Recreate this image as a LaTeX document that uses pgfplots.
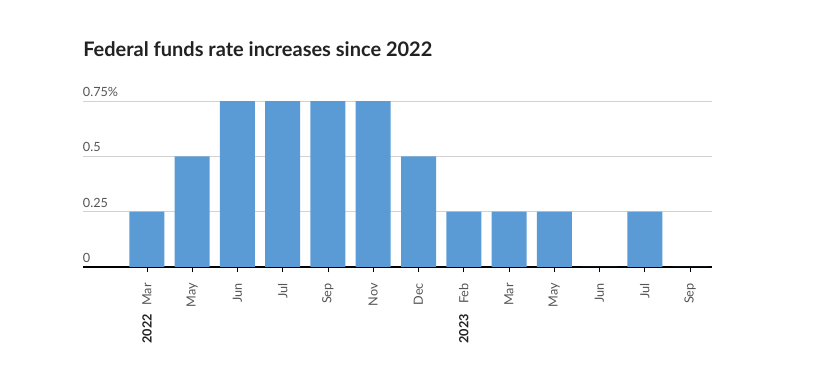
\documentclass[border=0pt]{standalone}
\usepackage{pgfplots}
\pgfplotsset{compat=1.18}
\usepackage{fontspec}
\setmainfont{Lato}
\definecolor{barblue}{RGB}{91,155,213}
\definecolor{gridgray}{RGB}{210,210,210}
\definecolor{labgray}{RGB}{85,85,85}
\definecolor{titlegray}{RGB}{34,34,34}
\begin{document}
\begin{tikzpicture}
\begin{axis}[
  at={(0,0)}, anchor=south west,
  scale only axis,
  width=471.75pt, height=124.5pt,
  xmin=-1.414, xmax=12.486,
  ymin=0, ymax=0.75,
  axis x line*=bottom, axis y line*=left,
  y axis line style={draw=none},
  x axis line style={black, line width=0.9pt},
  ytick={0,0.25,0.5,0.75},
  yticklabels={0,0.25,0.5,0.75\%},
  ytick style={draw=none},
  ymajorgrids, grid style={gridgray, line width=0.6pt},
  yticklabel style={anchor=south west, inner sep=0pt, xshift=3.75pt, yshift=3pt, font=\fontsize{9.5pt}{11pt}\selectfont, text=labgray},
  xtick={0,...,12},
  xticklabels={Mar,May,Jun,Jul,Sep,Nov,Dec,Feb,Mar,May,Jun,Jul,Sep},
  tick align=outside, major tick length=4pt,
  xtick style={black, line width=0.7pt},
  xticklabel shift=8pt,
  xticklabel style={rotate=90, anchor=east, inner sep=0pt, font=\fontsize{9.5pt}{11pt}\selectfont, text=labgray},
  /pgf/number format/assume math mode=true,
  clip=false,
]
\addplot[ybar, bar width=26.25pt, fill=barblue, draw=none] coordinates {
(0,0.25) (1,0.5) (2,0.75) (3,0.75) (4,0.75) (5,0.75) (6,0.5) (7,0.25) (8,0.25) (9,0.25) (10,0) (11,0.25) (12,0)
};
\node[rotate=90, anchor=east, inner sep=0pt, font=\bfseries\fontsize{9.5pt}{11pt}\selectfont, text=titlegray] at ([yshift=-35.25pt]axis cs:0,0) {2022};
\node[rotate=90, anchor=east, inner sep=0pt, font=\bfseries\fontsize{9.5pt}{11pt}\selectfont, text=titlegray] at ([yshift=-35.25pt]axis cs:7,0) {2023};
\end{axis}
\node[anchor=west, inner sep=0pt, font=\bfseries\fontsize{15pt}{18pt}\selectfont, text=titlegray] at (0,163.5pt) {Federal funds rate increases since 2022};
\path[use as bounding box] (-62.25pt,-77.25pt) rectangle (548.25pt,200.25pt);
\end{tikzpicture}
\end{document}
